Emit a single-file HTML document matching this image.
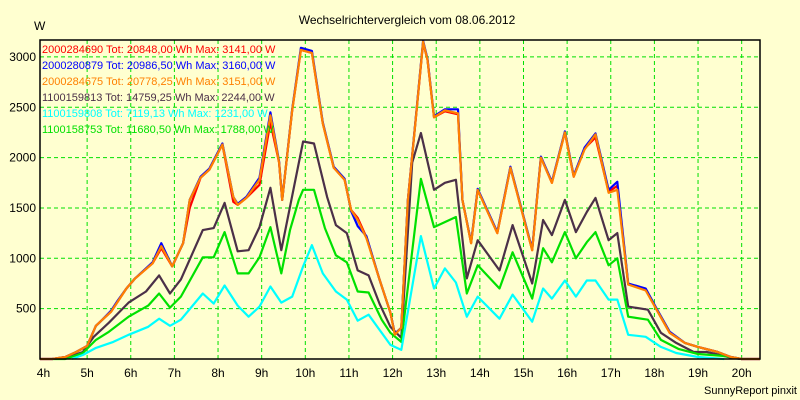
<!DOCTYPE html>
<html><head><meta charset="utf-8"><style>
body{margin:0;background:#ffffd0;}
svg{display:block;font-family:"Liberation Sans",Arial,sans-serif;}
</style></head><body>
<svg id="chart" width="800" height="400" viewBox="0 0 800 400">
<rect x="0" y="0" width="800" height="400" fill="#ffffd0"/>
<text x="407" y="24" font-size="12" text-anchor="middle" fill="#000">Wechselrichtervergleich vom 08.06.2012</text>
<text x="34" y="30" font-size="12" fill="#000">W</text>
<text x="797" y="394" font-size="11" text-anchor="end" fill="#000">SunnyReport pinxit</text>
<g id="grid"></g>
<g id="series"></g>
<rect x="40" y="40" width="720" height="319" fill="none" stroke="#000" stroke-width="1.5"/>
<g id="axes"></g>
<g id="legend"></g>
</svg>
<script>
const xTicks=[4,5,6,7,8,9,10,11,12,13,14,15,16,17,18,19,20];
const yTicks=[500,1000,1500,2000,2500,3000];
const seriesNames=["2000284690 Tot: 20848,00 Wh Max: 3141,00 W","2000280879 Tot: 20986,50 Wh Max: 3160,00 W","2000284675 Tot: 20778,25 Wh Max: 3151,00 W","1100159813 Tot: 14759,25 Wh Max: 2244,00 W","1100159808 Tot: 7119,13 Wh Max: 1231,00 W","1100158753 Tot: 11680,50 Wh Max: 1788,00 W"];
const seriesColors=["#ff0000","#0000ff","#ff8000","#4b3048","#00ffff","#00e000"];
const tOrange=[3.92,4.2,4.5,4.75,5,5.2,5.35,5.55,5.7,5.9,6.1,6.5,6.7,6.95,7.2,7.35,7.6,7.8,8.1,8.35,8.45,8.65,8.95,9.2,9.4,9.47,9.7,9.9,10.15,10.4,10.65,10.9,11,11.05,11.2,11.4,11.7,11.95,12.05,12.2,12.35,12.55,12.7,12.8,12.95,13.2,13.5,13.6,13.8,13.95,14.4,14.7,15.2,15.4,15.65,15.95,16.15,16.4,16.65,16.95,17.15,17.4,17.8,18.05,18.35,18.7,19,19.45,19.75,20,20.42];
const vRed=[0,0,20,70,130,330,390,470,570,700,800,950,1100,920,1150,1500,1800,1880,2130,1560,1530,1600,1730,2350,1950,1580,2470,3070,3040,2340,1900,1780,1580,1480,1400,1210,790,460,250,310,1580,2470,3141,2970,2400,2460,2430,1580,1150,1680,1250,1900,1080,2000,1750,2250,1810,2090,2200,1660,1720,740,690,490,260,160,120,70,20,0,0];
const vBlue=[0,0,20,70,130,330,390,480,580,700,800,960,1150,920,1150,1580,1810,1890,2140,1610,1540,1610,1800,2450,1960,1580,2480,3090,3060,2350,1910,1790,1580,1470,1320,1220,790,460,250,310,1580,2480,3160,2980,2410,2480,2480,1580,1160,1690,1260,1910,1090,2010,1760,2260,1820,2100,2240,1680,1760,750,700,500,270,160,120,70,20,0,0];
const vOrange=[0,0,20,70,130,330,390,470,570,700,800,950,1120,920,1150,1580,1800,1880,2130,1610,1530,1600,1780,2420,1950,1580,2470,3070,3040,2340,1900,1780,1580,1480,1380,1200,790,460,240,310,1580,2470,3151,2970,2400,2470,2440,1580,1150,1680,1250,1900,1080,2000,1750,2250,1810,2080,2230,1650,1680,740,680,490,260,160,120,70,20,0,0];
const tDark=[4.45,4.9,5.15,5.5,5.95,6.35,6.65,6.9,7.15,7.65,7.9,8.15,8.45,8.7,8.95,9.2,9.45,9.95,10.2,10.5,10.7,10.95,11.2,11.45,11.7,11.95,12.2,12.45,12.65,12.95,13.2,13.45,13.7,13.95,14.45,14.75,15.2,15.45,15.65,15.95,16.2,16.45,16.65,16.95,17.15,17.4,17.85,18.15,18.5,18.9,19.2,19.5,19.8,20];
const vDark=[0,70,220,360,560,670,830,650,790,1280,1300,1550,1070,1080,1310,1700,1080,2160,2140,1610,1330,1250,880,830,550,320,210,1950,2244,1680,1750,1780,800,1180,880,1330,750,1380,1230,1580,1260,1460,1600,1180,1250,520,490,260,160,70,70,40,10,0];
const tCyan=[4.65,4.9,5.2,5.6,5.95,6.4,6.65,6.9,7.15,7.65,7.9,8.15,8.45,8.7,8.95,9.2,9.45,9.7,9.95,10.15,10.4,10.7,10.95,11.2,11.45,11.75,11.95,12.2,12.65,12.95,13.2,13.45,13.7,13.95,14.45,14.75,15.2,15.45,15.65,15.95,16.2,16.45,16.65,16.95,17.15,17.4,17.8,18.15,18.5,19,19.6];
const vCyan=[0,40,110,170,240,320,400,330,390,650,550,730,530,420,520,720,560,620,920,1130,850,670,590,380,440,260,140,90,1220,700,900,760,420,620,400,640,370,700,600,780,620,780,780,590,590,240,220,120,60,20,0];
const tGreen=[4.2,4.5,4.9,5.2,5.5,5.95,6.4,6.65,6.9,7.15,7.65,7.9,8.15,8.45,8.7,8.95,9.2,9.45,9.65,9.85,9.95,10.2,10.45,10.7,10.95,11.2,11.45,11.75,11.95,12.2,12.65,12.95,13.45,13.7,13.95,14.45,14.75,15.2,15.45,15.65,15.95,16.2,16.45,16.65,16.95,17.15,17.4,17.85,18.15,18.55,19,19.6,20];
const vGreen=[0,0,60,190,270,420,530,650,510,620,1010,1010,1260,850,850,1010,1310,850,1280,1580,1680,1680,1300,1030,960,670,660,390,260,170,1788,1310,1410,650,930,700,1060,600,1100,960,1260,1000,1160,1260,930,1000,420,390,190,100,50,30,0];

const X0=40,X1=760,H0=3.92,H1=20.42,Y0=359,YS=0.1007;
function xs(h){return X0+(h-H0)/(H1-H0)*(X1-X0);}
function ys(v){return Y0-v*YS;}
const NS="http://www.w3.org/2000/svg";
const grid=document.getElementById('grid'),axes=document.getElementById('axes'),sg=document.getElementById('series'),lg=document.getElementById('legend');
xTicks.forEach(h=>{
  const x=xs(h);
  if(h>4){const l=document.createElementNS(NS,'line');
  
  
  l.setAttribute('x1',x);l.setAttribute('x2',x);l.setAttribute('y1',40);l.setAttribute('y2',359);
  l.setAttribute('stroke','#00e000');l.setAttribute('stroke-dasharray','4,3');grid.appendChild(l);}
  const t=document.createElementNS(NS,'text');
  
  
  t.setAttribute('x',x);t.setAttribute('y',377);t.setAttribute('font-size','12');t.setAttribute('text-anchor','middle');
  t.textContent=h+'h';axes.appendChild(t);
});
yTicks.forEach(v=>{
  const y=ys(v);
  const l=document.createElementNS(NS,'line');
  
  
  l.setAttribute('x1',40);l.setAttribute('x2',760);l.setAttribute('y1',y);l.setAttribute('y2',y);
  l.setAttribute('stroke','#00e000');l.setAttribute('stroke-dasharray','4,3');grid.appendChild(l);
  const t=document.createElementNS(NS,'text');
  
  
  t.setAttribute('x',36);t.setAttribute('y',y+4);t.setAttribute('font-size','12');t.setAttribute('text-anchor','end');
  t.textContent=v;axes.appendChild(t);
});
const order=[[tDark,vDark,3],[tGreen,vGreen,5],[tCyan,vCyan,4],[tOrange,vRed,0],[tOrange,vBlue,1],[tOrange,vOrange,2]];
order.forEach(([ts,vs,i])=>{
  const p=document.createElementNS(NS,'polyline');
  
  
  p.setAttribute('points',ts.map((h,k)=>xs(h).toFixed(1)+','+ys(vs[k]).toFixed(1)).join(' '));
  p.setAttribute('fill','none');p.setAttribute('stroke',seriesColors[i]);p.setAttribute('stroke-width','2.2');
  p.setAttribute('stroke-linejoin','round');
  sg.appendChild(p);
});
seriesNames.forEach((n,i)=>{
  const t=document.createElementNS(NS,'text');
  
  
  t.setAttribute('x',42);t.setAttribute('y',53+i*16);t.setAttribute('font-size','11');
  t.setAttribute('fill',seriesColors[i]);t.textContent=n;lg.appendChild(t);
});
</script>
</body></html>
